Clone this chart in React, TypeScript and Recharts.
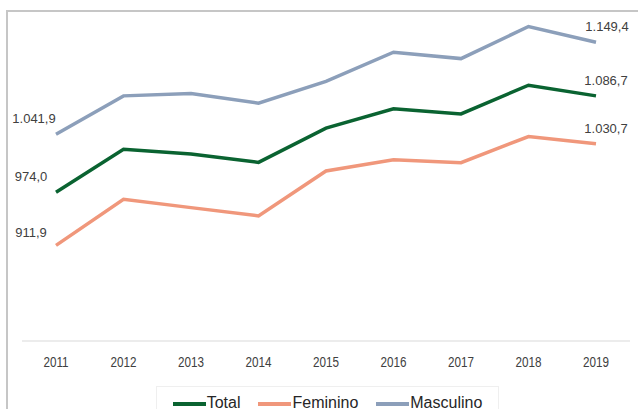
import React from 'react';
import { LineChart, Line, XAxis, YAxis, LabelList } from 'recharts';

const years = ['2011', '2012', '2013', '2014', '2015', '2016', '2017', '2018', '2019'];
const total = [974.0, 1024.3, 1018.8, 1008.9, 1048.9, 1071.5, 1065.6, 1099.2, 1086.7];
const feminino = [911.9, 965.8, 956.0, 946.3, 998.9, 1012.1, 1008.6, 1039.1, 1030.7];
const masculino = [1041.9, 1086.7, 1089.4, 1078.2, 1103.7, 1137.8, 1130.3, 1167.8, 1149.4];

const series = [
  { key: 'total', name: 'Total', color: '#0a6331', start: [-25, -16], end: [10, -15] },
  { key: 'feminino', name: 'Feminino', color: '#f0977b', start: [-25, -13], end: [10, -15] },
  { key: 'masculino', name: 'Masculino', color: '#8c9fba', start: [-22, -16], end: [11, -16] },
];

const data = years.map((y, i) => ({ year: y, total: total[i], feminino: feminino[i], masculino: masculino[i] }));

const fmt = (v: number) => {
  const [i, d] = v.toFixed(1).split('.');
  return i.replace(/\B(?=(\d{3})+(?!\d))/g, '.') + ',' + d;
};

const makeLabel = (start: number[], end: number[]) => (props: any) => {
  const { x, y, value, index } = props;
  if (index !== 0 && index !== years.length - 1) return null;
  const [dx, dy] = index === 0 ? start : end;
  return (
    <text
      x={x + dx}
      y={y + dy}
      textAnchor="middle"
      dominantBaseline="central"
      fontSize={13}
      fill="#404040"
      fontFamily="'Liberation Sans', Arial, sans-serif"
    >
      {fmt(value)}
    </text>
  );
};

const CondensedTick = (props: any) => {
  const { x, y, payload } = props;
  return (
    <g transform={`translate(${x},${y + 12}) scale(0.78,1)`}>
      <text
        x={0}
        y={0}
        textAnchor="middle"
        fontSize={15}
        fill="#404040"
        fontFamily="'Liberation Sans', Arial, sans-serif"
      >
        {payload.value}
      </text>
    </g>
  );
};

export default function App() {
  return (
    <div style={{ position: 'absolute', left: 0, top: 0, width: 638, height: 409, overflow: 'hidden', background: '#fff' }}>
      <div style={{ position: 'absolute', left: 6, top: 10, width: 700, height: 500, borderLeft: '2px solid #c6c6c6', borderTop: '2px solid #c6c6c6', boxSizing: 'border-box' }} />
      <div style={{ position: 'absolute', left: 0, top: -1 }}>
        <LineChart width={638} height={410} data={data} margin={{ top: 0, right: 8, left: 22, bottom: 38 }}>
          <YAxis hide domain={[800, 1200]} />
          <XAxis
            dataKey="year"
            height={30}
            padding={{ left: 34, right: 34 }}
            axisLine={{ stroke: '#d9d9d9', strokeWidth: 1 }}
            tickLine={false}
            tickSize={6}
            tickMargin={8}
            tick={<CondensedTick />}
          />
          {series.map((s) => (
            <Line
              key={s.key}
              dataKey={s.key}
              name={s.name}
              stroke={s.color}
              strokeWidth={3.5}
              dot={false}
              activeDot={false}
              isAnimationActive={false}
            >
              <LabelList dataKey={s.key} content={makeLabel(s.start, s.end)} />
            </Line>
          ))}
        </LineChart>
      </div>
      <div
        style={{
          position: 'absolute',
          left: 156,
          top: 386,
          width: 343,
          height: 40,
          border: '1px solid #efefef',
          boxSizing: 'border-box',
          display: 'flex',
          justifyContent: 'center',
          alignItems: 'flex-start',
          paddingTop: 8,
          fontFamily: "'Liberation Sans', Arial, sans-serif",
          fontSize: 16,
          color: '#262626',
          lineHeight: '16px',
        }}
      >
        {series.map((s, i) => (
          <div key={s.key} style={{ display: 'flex', alignItems: 'center', marginLeft: i === 0 ? 0 : 18 }}>
            <div style={{ width: 33, height: 3.5, background: s.color, marginRight: 1, marginTop: 2 }} />
            <span>{s.name}</span>
          </div>
        ))}
      </div>
    </div>
  );
}
